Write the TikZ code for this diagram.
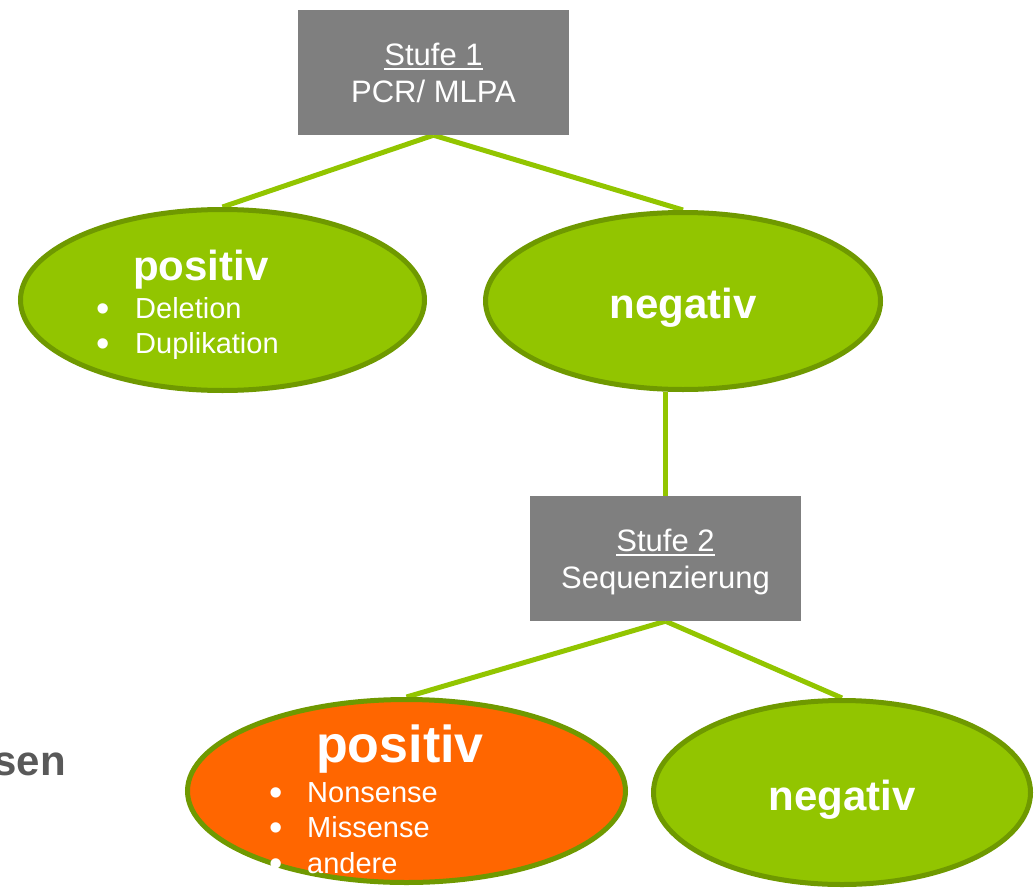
\documentclass[tikz,border=0pt]{standalone}
\usepackage{fontspec}
\setmainfont{Liberation Sans}
\usepackage{tikz}
\usetikzlibrary{shapes,backgrounds}
\definecolor{kastengrau}{HTML}{7F7F7F}
\definecolor{blattgruen}{HTML}{92C500}
\definecolor{randgruen}{HTML}{6F9900}
\definecolor{signalorange}{HTML}{FF6600}
\definecolor{schriftgrau}{HTML}{595959}
\newsavebox{\strichbox}
\newcommand{\unterstrich}[1]{\sbox{\strichbox}{#1}\rlap{\usebox{\strichbox}}\rule[-5pt]{\wd\strichbox}{2pt}}
\newcommand{\punkt}[1]{\llap{\raisebox{-3pt}{\fontsize{38}{38}\selectfont\textbullet}\hspace{#1}}}

\begin{document}
\begin{tikzpicture}[x=1pt,y=-1pt,
  stufe/.style={fill=kastengrau,text=white,minimum width=271pt,minimum height=125pt,inner sep=0pt,align=center,text depth=0pt,font=\fontsize{31}{37}\selectfont},
  ergebnis/.style={ellipse,draw=randgruen,line width=5pt,fill=blattgruen,inner sep=0pt,text=white,font=\fontsize{42}{46}\selectfont\bfseries},
  kopf/.style={inner sep=0pt,text=white,font=\fontsize{42}{46}\selectfont\bfseries},
  eintrag/.style={anchor=base west,inner sep=0pt,text=white,font=\fontsize{29}{35}\selectfont},
  kante/.style={draw=blattgruen,line width=5pt}]

\useasboundingbox (0,0) rectangle (1035,888);

\node (S1) at (433.5,72.5)[stufe] {\unterstrich{Stufe 1}\\PCR/ MLPA};
\node (P1) at (222.5,300)[ergebnis,minimum width=404pt,minimum height=181pt] {};
\node (N1) at (683,301)[ergebnis,minimum width=395pt,minimum height=177pt,text height=35pt,text depth=0pt] {negativ};
\node (S2) at (665.5,558.5)[stufe] {\unterstrich{Stufe 2}\\Sequenzierung};
\node (P2) at (406.5,791)[ergebnis,fill=signalorange,minimum width=438pt,minimum height=183pt] {};
\node (N2) at (842,792.5)[ergebnis,minimum width=377pt,minimum height=184pt,text height=35pt,text depth=0pt] {negativ};

\node (P1kopf) at (133,280)[kopf,anchor=base west] {positiv};
\node (P1a) at (135,318)[eintrag] {\punkt{25pt}Deletion};
\node (P1b) at (135,353)[eintrag] {\punkt{25pt}Duplikation};

\node (P2kopf) at (400,762)[kopf,anchor=base,font=\fontsize{52}{56}\selectfont\bfseries] {positiv};
\node (P2a) at (307,802)[eintrag] {\punkt{24pt}Nonsense};
\node (P2b) at (307,837)[eintrag] {\punkt{24pt}Missense};
\node (P2c) at (307,873)[eintrag] {\punkt{24pt}andere};

\node (rest) at (66,775)[anchor=base east,inner sep=0pt,text=schriftgrau,font=\fontsize{42}{46}\selectfont\bfseries] {sen};

\begin{scope}[on background layer]
\draw[kante] (S1.south) -- (P1.north);
\draw[kante] (S1.south) -- (N1.north);
\draw[kante] (S2.north) -- (S2.north |- N1.south);
\draw[kante] (S2.south) -- (P2.north);
\draw[kante] (S2.south) -- (N2.north);
\end{scope}
\end{tikzpicture}
\end{document}
